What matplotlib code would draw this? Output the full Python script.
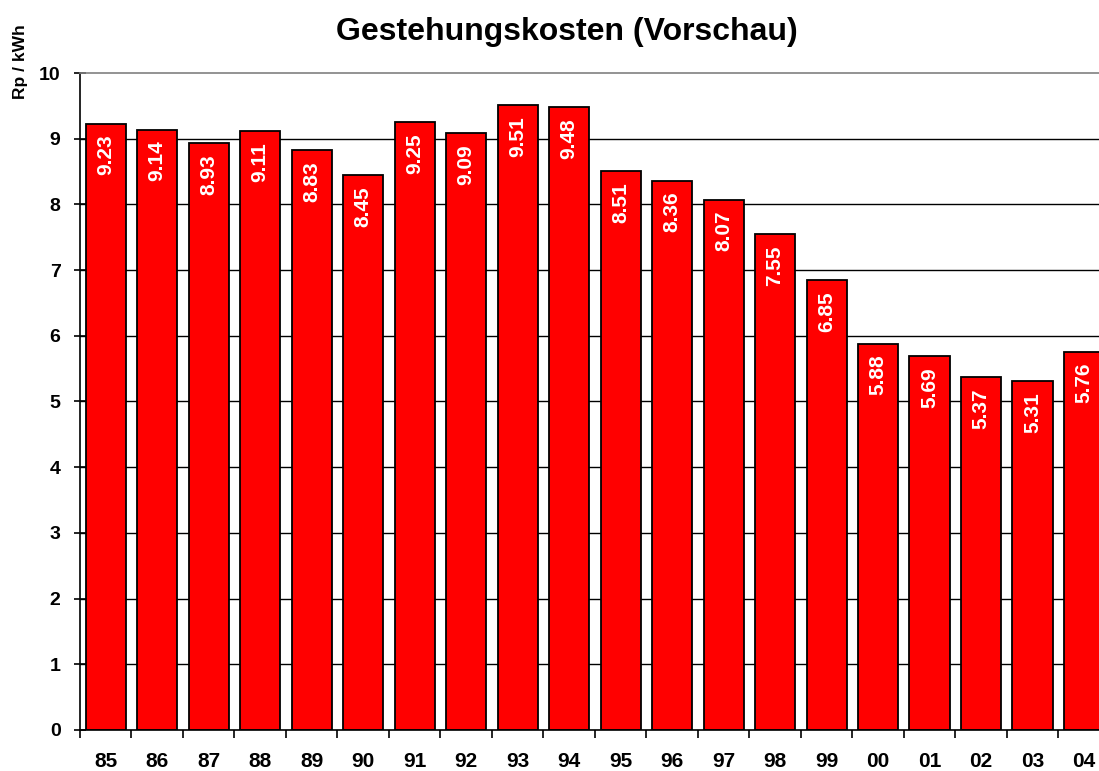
import matplotlib
matplotlib.use("Agg")
import matplotlib.pyplot as plt
import numpy as np

plt.rcParams['font.family'] = ['Liberation Sans', 'DejaVu Sans']

years = ["85", "86", "87", "88", "89", "90", "91", "92", "93", "94",
         "95", "96", "97", "98", "99", "00", "01", "02", "03", "04"]
costs = [9.23, 9.14, 8.93, 9.11, 8.83, 8.45, 9.25, 9.09, 9.51, 9.48,
         8.51, 8.36, 8.07, 7.55, 6.85, 5.88, 5.69, 5.37, 5.31, 5.76]
yticks = [0, 1, 2, 3, 4, 5, 6, 7, 8, 9, 10]

fig = plt.figure(figsize=(10.99, 7.71), dpi=100)
ax = fig.add_axes([0.0728, 0.0532, 0.937, 0.8521])

x = np.arange(len(years))
ax.set_xlim(-0.5, len(years) - 0.5)
ax.set_ylim(0, 10)

for yv in yticks[1:-1]:
    ax.axhline(yv, color='black', lw=1, zorder=1)

ax.bar(x, costs, width=0.78, color='#ff0000', edgecolor='black', linewidth=1.3, zorder=2)

for xi, v in zip(x, costs):
    ax.annotate(f"{v:.2f}", xy=(xi, v), xytext=(0, -8), textcoords='offset points',
                rotation=90, ha='center', va='top', color='white', fontsize=15,
                fontweight='bold', zorder=3,
                bbox=dict(boxstyle='square,pad=0.45', fc='#ff0000', ec='none'))

ax.set_yticks(yticks)
ax.set_yticklabels([str(t) for t in yticks], fontsize=14, fontweight='bold')
ax.set_xticks(x)
ax.set_xticklabels(years, fontsize=15, fontweight='bold')
ax.set_xticks(np.arange(-0.5, len(years), 1), minor=True)
ax.tick_params(axis='x', which='major', length=0, pad=16)
ax.tick_params(axis='x', which='minor', length=6, width=1.2, direction='out')
ax.tick_params(axis='y', length=8, width=1.2, direction='inout', pad=10)

ax.spines['top'].set_color('#808080')
ax.spines['top'].set_linewidth(1.2)
ax.spines['right'].set_visible(False)
ax.spines['left'].set_linewidth(1.2)
ax.spines['bottom'].set_linewidth(1.2)

fig.text(0.516, 0.958, "Gestehungskosten (Vorschau)", ha='center', va='center',
         fontsize=23, fontweight='bold')
fig.text(0.019, 0.968, "Rp / kWh", rotation=90, ha='center', va='top',
         fontsize=12.5, fontweight='bold')

fig.savefig("out.png", dpi=100)
